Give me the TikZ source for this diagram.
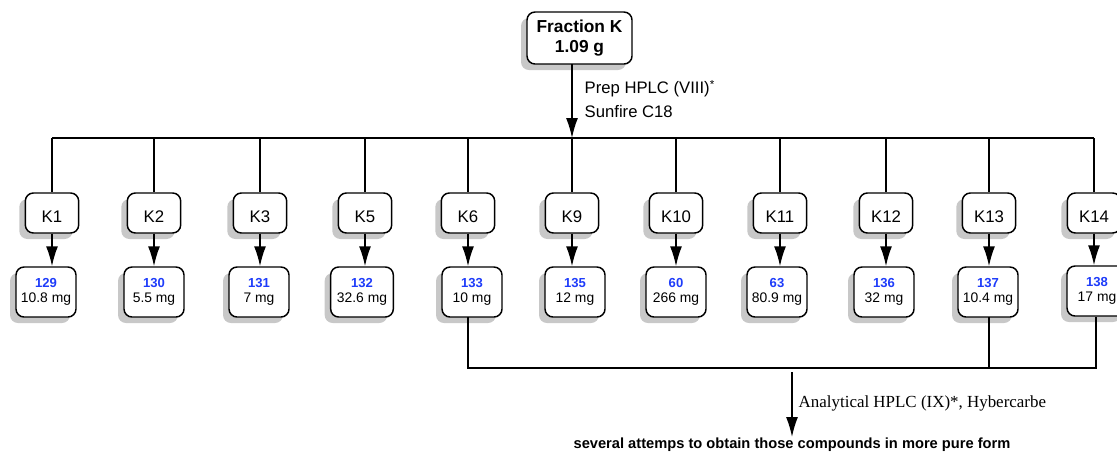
\documentclass[tikz,border=0pt]{standalone}
\usepackage{fontspec}
\setmainfont{Liberation Sans}
\newfontfamily\timesf{Liberation Serif}
\usetikzlibrary{shadows,arrows.meta}
\definecolor{numblue}{RGB}{30,60,250}
\definecolor{shadowgray}{RGB}{200,200,200}
\tikzset{
  every picture/.style={x=0.75pt,y=-0.75pt},
  shbox/.style={draw=black, line width=1.1pt, rounded corners=6pt, fill=white,
    general shadow={fill=shadowgray, shadow xshift=-4.5pt, shadow yshift=-4.5pt}},
  topbox/.style={shbox, minimum width=78.75pt, minimum height=39pt, inner sep=0pt,
    font=\fontsize{13}{15.5}\selectfont\bfseries, align=center},
  kbox/.style={shbox, minimum width=40pt, minimum height=30pt, inner sep=0pt,
    font=\fontsize{12.6}{15}\selectfont, text height=14pt, text depth=0pt},
  rbox/.style={shbox, minimum width=45pt, minimum height=37.5pt, inner sep=0pt,
    align=center, font=\fontsize{10.4}{12.5}\selectfont},
  conn/.style={line width=1.1pt},
  arr/.style={line width=1.1pt, -{Latex[length=15pt,width=9pt]}},
}
\newcommand{\cmp}[2]{{\fontsize{9.8}{11}\selectfont\bfseries\color{numblue}#1}\\[-1pt]#2}
\begin{document}
\begin{tikzpicture}
\useasboundingbox (0,0) rectangle (1117,455);
% top node
\node[topbox] (fk) at (579.5,38) {Fraction K\\1.09 g};
\coordinate (bus) at (572,138);
\draw[arr] (572,64) coordinate (fkout) -- (bus);
\node[anchor=west, align=left, font=\fontsize{12.5}{18}\selectfont] (prep) at (580,99)
  {Prep HPLC (VIII)\textsuperscript{*}\\Sunfire C18};
% K nodes
\foreach \n/\x in {1/52,2/154,3/260,5/365,6/468,9/572,10/676,11/780,12/886,13/989,14/1094}{
  \node[kbox] (k\n) at (\x,213) {K\n};
  \coordinate (t\n) at (\x,138);
  \draw[conn] (t\n) -- (k\n.north);
}
\draw[conn] (t1) -- (t14);
% result nodes
\node[rbox] (r129) at (46,292)   {\cmp{129}{10.8 mg}};
\node[rbox] (r130) at (154,292)  {\cmp{130}{5.5 mg}};
\node[rbox] (r131) at (259,292)  {\cmp{131}{7 mg}};
\node[rbox, minimum width=47pt] (r132) at (362,292)  {\cmp{132}{32.6 mg}};
\node[rbox] (r133) at (472,292)  {\cmp{133}{10 mg}};
\node[rbox] (r135) at (575,292)  {\cmp{135}{12 mg}};
\node[rbox] (r60)  at (676,292)  {\cmp{60}{266 mg}};
\node[rbox] (r63)  at (777,292)  {\cmp{63}{80.9 mg}};
\node[rbox] (r136) at (884,292)  {\cmp{136}{32 mg}};
\node[rbox] (r137) at (988,292)  {\cmp{137}{10.4 mg}};
\node[rbox] (r138) at (1097,291) {\cmp{138}{17 mg}};
\foreach \k/\r in {1/129,2/130,3/131,5/132,6/133,9/135,10/60,11/63,12/136,13/137,14/138}{
  \draw[arr] (k\k.south) -- (k\k.south |- r\r.north);
}
% bottom bracket
\coordinate (b6) at (468,368);
\coordinate (b13) at (989,368);
\coordinate (b14) at (1096,368);
\draw[conn] (468,317) -- (b6) -- (b14) -- (1096,317);
\draw[conn] (989,317) -- (b13);
\coordinate (src) at (792,372);
\node[font=\fontsize{11}{13}\selectfont\bfseries] (goal) at (792,445)
  {several attemps to obtain those compounds in more pure form};
\draw[arr] (src) -- (792,437);
\node[anchor=west, font=\timesf\fontsize{12.7}{15}\selectfont] (ana) at (794,403)
  {Analytical HPLC (IX)*, Hybercarbe};
\end{tikzpicture}
\end{document}
